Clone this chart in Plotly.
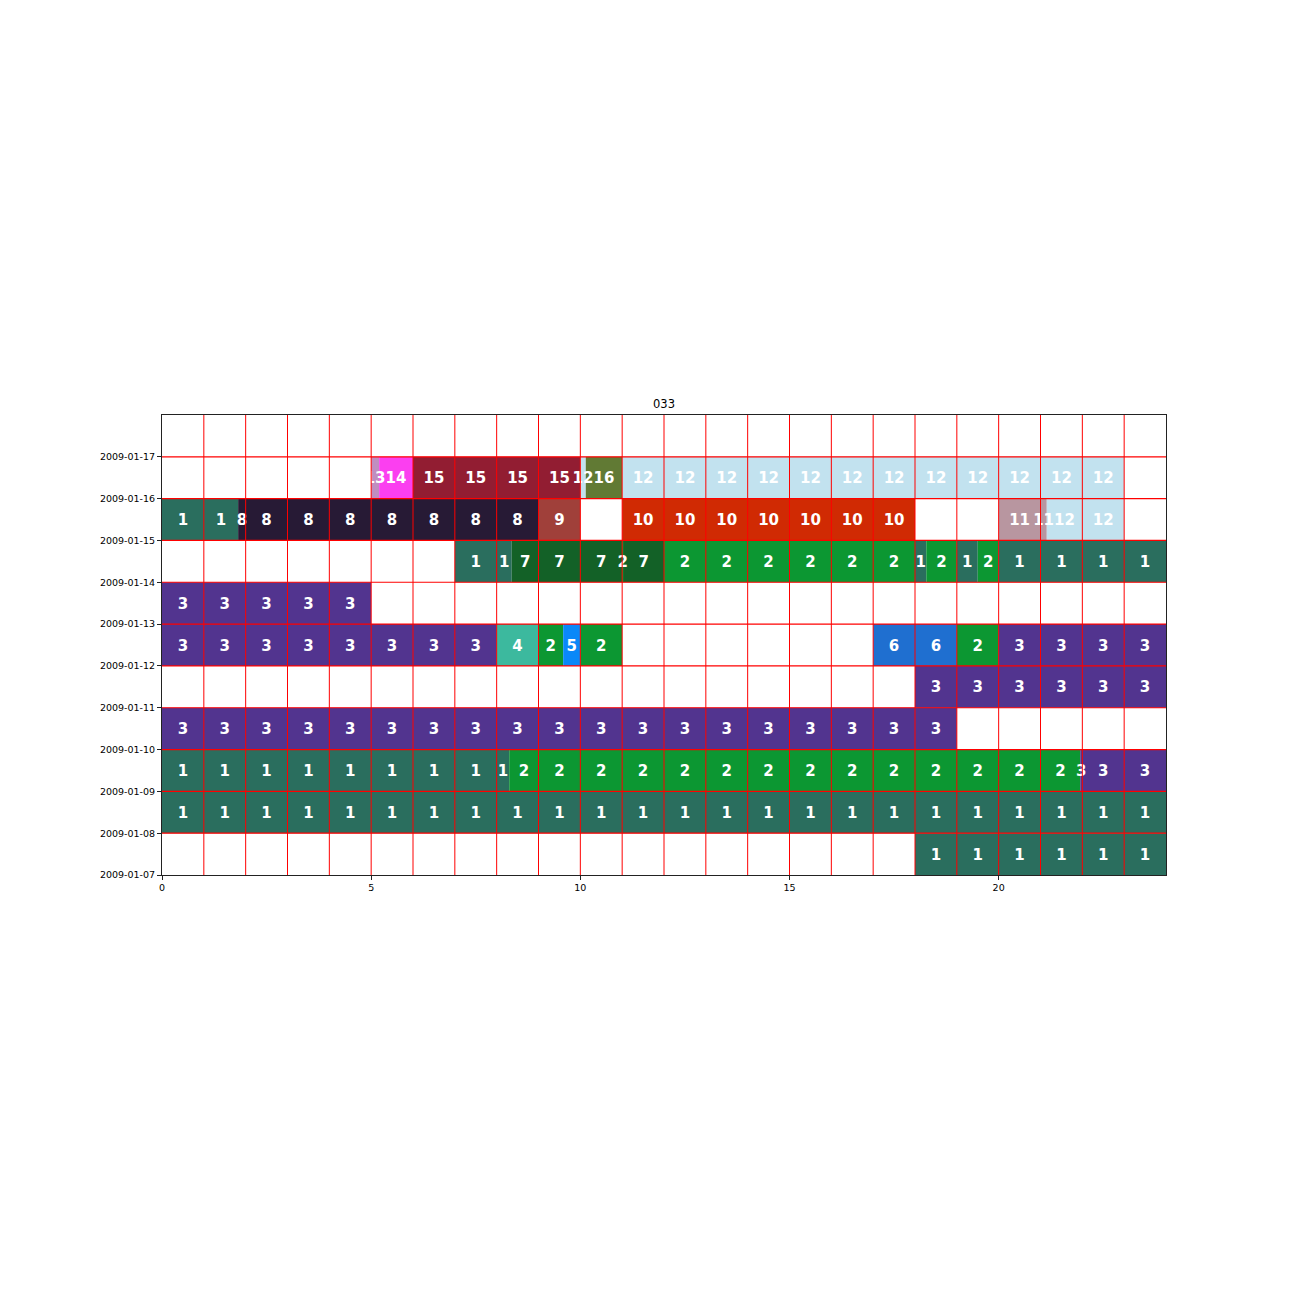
import plotly.graph_objects as go

# ---- data ----
day_labels = ["2009-01-07", "2009-01-08", "2009-01-09", "2009-01-10", "2009-01-11",
              "2009-01-12", "2009-01-13", "2009-01-14", "2009-01-15", "2009-01-16",
              "2009-01-17"]

# runs of activity: row index (day), start hour, end hour, cluster id
run_row = [0,
           1,
           2, 2, 2,
           3,
           4,
           5, 5, 5, 5, 5, 5, 5, 5,
           6,
           7, 7, 7, 7, 7, 7, 7, 7, 7, 7,
           8, 8, 8, 8, 8, 8,
           9, 9, 9, 9, 9, 9]
run_start = [18,
             0,
             0, 8.3, 21.95,
             0,
             18,
             0, 8, 9, 9.59, 10, 17, 19, 20,
             0,
             7, 8.36, 11.0, 11.03, 12, 18, 18.27, 19, 19.5, 20,
             0, 1.82, 9, 11, 20, 21.15,
             5, 5.19, 6, 10, 10.13, 11]
run_end = [24,
           24,
           8.3, 21.95, 24,
           19,
           24,
           8, 9, 9.59, 10, 11, 19, 20, 24,
           5,
           8.36, 11.0, 11.03, 12, 18, 18.27, 19, 19.5, 20, 24,
           1.82, 9, 10, 18, 21.15, 23,
           5.19, 6, 10, 10.13, 11, 23]
run_id = [1,
          1,
          1, 2, 3,
          3,
          3,
          3, 4, 2, 5, 2, 6, 2, 3,
          3,
          1, 7, 2, 7, 2, 1, 2, 1, 2, 1,
          1, 8, 9, 10, 11, 12,
          13, 14, 15, 12, 16, 12]

cluster_colors = {
    1: "#2a6e5e", 2: "#0c9732", 3: "#52348f", 4: "#3cb99e",
    5: "#0a88f8", 6: "#1f6fd0", 7: "#136127", 8: "#271a35",
    9: "#a0403a", 10: "#d02a03", 11: "#b896a0", 12: "#c2e2ef",
    13: "#c08ec0", 14: "#fb3ff0", 15: "#921d32", 16: "#617a34",
}

x_ticks = [0, 5, 10, 15, 20]
n_hours = 24
n_days = len(day_labels)

# ---- build ----
fig = go.Figure()

fig.add_trace(go.Bar(
    orientation="h",
    y=[r + 0.5 for r in run_row],
    x=[e - s for s, e in zip(run_start, run_end)],
    base=run_start,
    width=1,
    marker=dict(color=[cluster_colors[c] for c in run_id], line=dict(width=0)),
    hoverinfo="skip",
    showlegend=False,
))

# labels: one per hour piece of each run
tx, ty, tt = [], [], []
for r, s, e, c in zip(run_row, run_start, run_end, run_id):
    h = int(s)
    while h < e:
        a = max(s, h)
        b = min(e, h + 1)
        if b > a:
            tx.append((a + b) / 2)
            ty.append(r + 0.5 - 0.045)
            tt.append(str(c))
        h += 1

fig.add_trace(go.Scatter(
    x=tx, y=ty, text=tt, mode="text",
    textfont=dict(family="DejaVu Sans", size=15, color="white", weight="bold"),
    hoverinfo="skip", showlegend=False, cliponaxis=False,
))

shapes = []
for h in range(1, n_hours):
    shapes.append(dict(type="line", xref="x", yref="y", x0=h, x1=h, y0=0, y1=n_days,
                       line=dict(color="red", width=1), layer="above"))
for d in range(1, n_days):
    shapes.append(dict(type="line", xref="x", yref="y", x0=0, x1=n_hours, y0=d, y1=d,
                       line=dict(color="red", width=1.2), layer="above"))

fig.update_layout(
    width=1296, height=1296,
    margin=dict(l=162, r=130, t=415, b=421),
    paper_bgcolor="white", plot_bgcolor="white",
    barmode="overlay",
    shapes=shapes,
    title=dict(text="033", x=0.5, xref="paper", xanchor="center",
               y=1 - 404 / 1296, yanchor="middle", yref="container",
               font=dict(family="DejaVu Sans", size=11.5, color="black")),
    font=dict(family="DejaVu Sans", size=9.5, color="black"),
)
fig.update_xaxes(range=[0, n_hours], tickvals=x_ticks, ticktext=[str(v) for v in x_ticks],
                 showgrid=False, zeroline=False, showline=True, mirror=True,
                 linecolor="#222", linewidth=1, ticks="outside", ticklen=4,
                 tickcolor="#222", tickfont=dict(size=9.5))
fig.update_yaxes(range=[0, n_days], tickvals=list(range(len(day_labels))), ticktext=day_labels,
                 showgrid=False, zeroline=False, showline=True, mirror=True,
                 linecolor="#222", linewidth=1, ticks="outside", ticklen=4,
                 tickcolor="#222", tickfont=dict(size=9.5))

fig.write_html("out.html")
